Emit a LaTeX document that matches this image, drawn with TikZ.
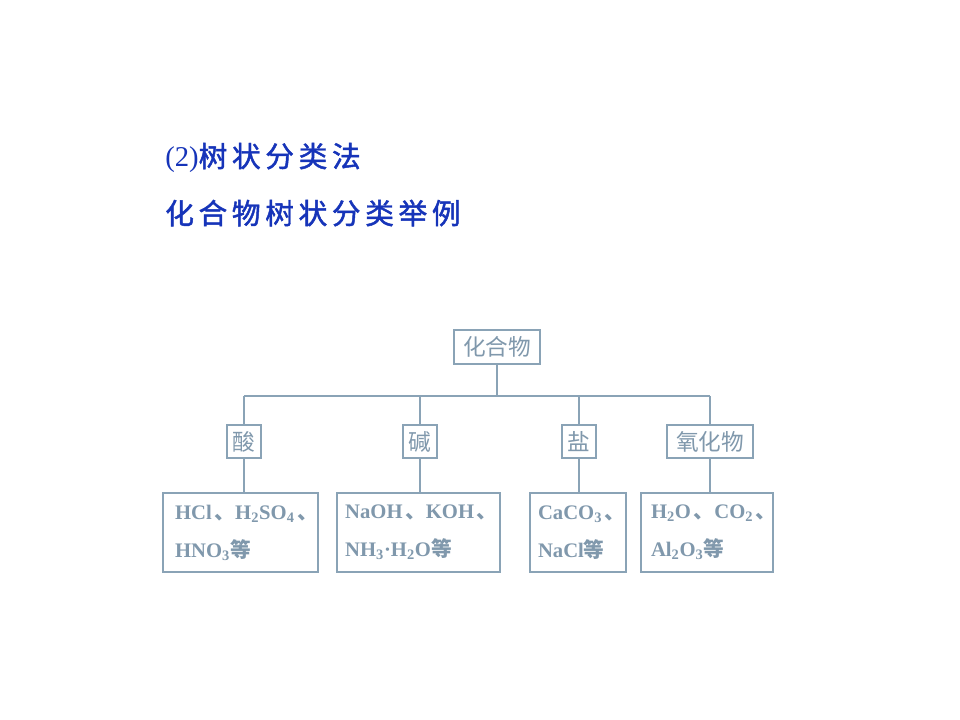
\documentclass[tikz,border=0pt]{standalone}
\usepackage{fontspec}
\setmainfont{Liberation Serif}
\newfontfamily\cjk{Noto Sans CJK SC}
\newfontfamily\cjkt[FakeBold=1.6]{Noto Sans CJK SC}
\definecolor{titleblue}{RGB}{22,52,185}
\definecolor{boxline}{RGB}{138,163,182}
\definecolor{boxtext}{RGB}{128,152,172}
\newcommand\tsp{\hspace{3.5pt}}
\newcommand\dun{\kern2pt{\cjk 、}}
\begin{document}
\begin{tikzpicture}[x=0.75pt,y=-0.75pt,
  titletext/.style={anchor=base west,inner sep=0pt,text=titleblue,font=\fontsize{21.5}{25}\selectfont},
  catbox/.style={draw=boxline,line width=1.4pt,text=boxtext,inner sep=2pt,minimum height=25pt,font=\cjk\fontsize{17}{20}\selectfont},
  leafbox/.style={draw=boxline,line width=1.4pt,text=boxtext,align=left,minimum height=59pt,font=\bfseries\fontsize{15.5}{28.5}\selectfont},
  conn/.style={draw=boxline,line width=1.4pt}]
\useasboundingbox[fill=white] (0,0) rectangle (960,720);
\node[titletext] (t1) at (165,167) {(2){\cjkt 树\tsp 状\tsp 分\tsp 类\tsp 法}};
\node[titletext] (t2) at (165,224) {{\cjkt 化\tsp 合\tsp 物\tsp 树\tsp 状\tsp 分\tsp 类\tsp 举\tsp 例}};
\node[catbox,minimum width=65pt] (root) at (497,347) {化合物};
\coordinate (bus) at (497,396);
\node[catbox,minimum width=25pt] (c1) at (244,441.5) {酸};
\node[catbox,minimum width=25pt] (c2) at (420,441.5) {碱};
\node[catbox,minimum width=25pt] (c3) at (579,441.5) {盐};
\node[catbox,minimum width=64.5pt] (c4) at (710,441.5) {氧化物};
\node[leafbox,text width=98pt,inner xsep=9pt,minimum width=116pt] (l1) at (240.5,532.5)
  {HCl\dun H\textsubscript{2}SO\textsubscript{4}\dun\\HNO\textsubscript{3}{\cjk 等}};
\node[leafbox,text width=110pt,inner xsep=6pt,minimum width=122pt] (l2) at (418.5,532.5)
  {NaOH\dun KOH\dun\\NH\textsubscript{3}·H\textsubscript{2}O{\cjk 等}};
\node[leafbox,text width=60pt,inner xsep=6pt,minimum width=72pt] (l3) at (578,532.5)
  {CaCO\textsubscript{3}\dun\\NaCl{\cjk 等}};
\node[leafbox,text width=84pt,inner xsep=7.5pt,minimum width=99pt] (l4) at (707,532.5)
  {H\textsubscript{2}O\dun CO\textsubscript{2}\dun\\Al\textsubscript{2}O\textsubscript{3}{\cjk 等}};
\draw[conn] (root.south) -- (bus);
\draw[conn] (c1.north |- bus) -- (c4.north |- bus);
\foreach \c/\l in {c1/l1,c2/l2,c3/l3,c4/l4}{
  \draw[conn] (\c.north |- bus) -- (\c.north);
  \draw[conn] (\c.south) -- (\c.south |- \l.north);
}
\end{tikzpicture}
\end{document}
